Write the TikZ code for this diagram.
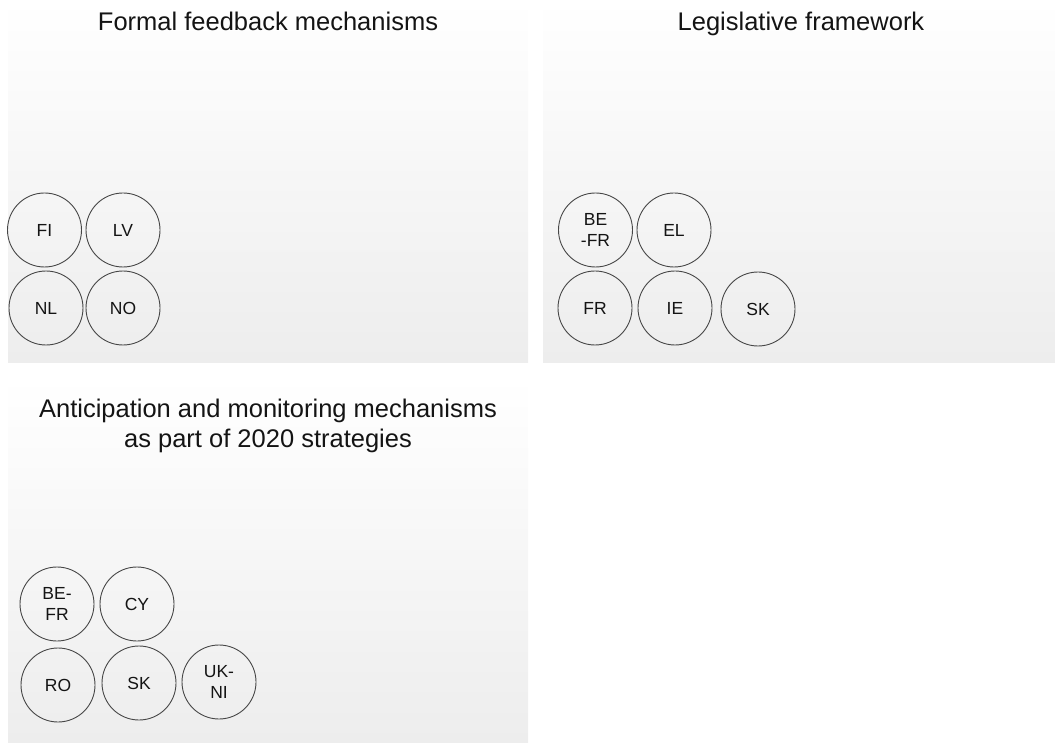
\documentclass[tikz,border=0pt]{standalone}
\usepackage{fontspec}
\setmainfont{Liberation Sans}
\usepackage{xcolor}
\usepackage{tikz}
\definecolor{panelgray}{RGB}{237,237,237}
\definecolor{ringgray}{RGB}{70,70,70}
\definecolor{textblack}{RGB}{20,20,20}
\usetikzlibrary{shapes.geometric,calc}

\begin{document}
\begin{tikzpicture}[x=1pt, y=-1pt,
    panel/.style={top color=white, bottom color=panelgray, draw=none},
    heading/.style={text=textblack, align=center, font=\fontsize{25.5}{30}\selectfont},
    country/.style={circle, draw=ringgray, line width=0.9pt, minimum size=74pt,
        inner sep=0pt, text=textblack, align=center, font=\fontsize{17.5}{21}\selectfont}]
    \useasboundingbox (0,0) rectangle (1055,743);

    % Panel backgrounds
    \shade[panel] (8,0) rectangle (528,362);
    \shade[panel] (543,0) rectangle (1055,362);
    \shade[panel] (8,376) rectangle (528,743);

    % Formal feedback mechanisms
    \node[heading, anchor=base] (feedback) at (268,31) {Formal feedback mechanisms};
    \node[country] (fi) at (44.5,230) {FI};
    \node[country] (lv) at (123,230) {LV};
    \node[country] (nl) at (46,308) {NL};
    \node[country] (no) at (123,308) {NO};

    % Legislative framework
    \node[heading, anchor=base] (legal) at (801,31) {Legislative framework};
    \node[country] (befr) at (595.5,230) {BE\\-FR};
    \node[country] (el) at (674,230) {EL};
    \node[country] (fr) at (595,308) {FR};
    \node[country] (ie) at (675,308) {IE};
    \node[country] (sk) at (758,309) {SK};

    % Anticipation and monitoring mechanisms
    \node[heading] (anticip) at (268,426) {Anticipation and monitoring mechanisms\\as part of 2020 strategies};
    \node[country] (befr2) at (57,604) {BE-\\FR};
    \node[country] (cy) at (137,604) {CY};
    \node[country] (ro) at (58,685) {RO};
    \node[country] (sk2) at (139,683) {SK};
    \node[country] (ukni) at (219,682) {UK-\\NI};
\end{tikzpicture}
\end{document}
